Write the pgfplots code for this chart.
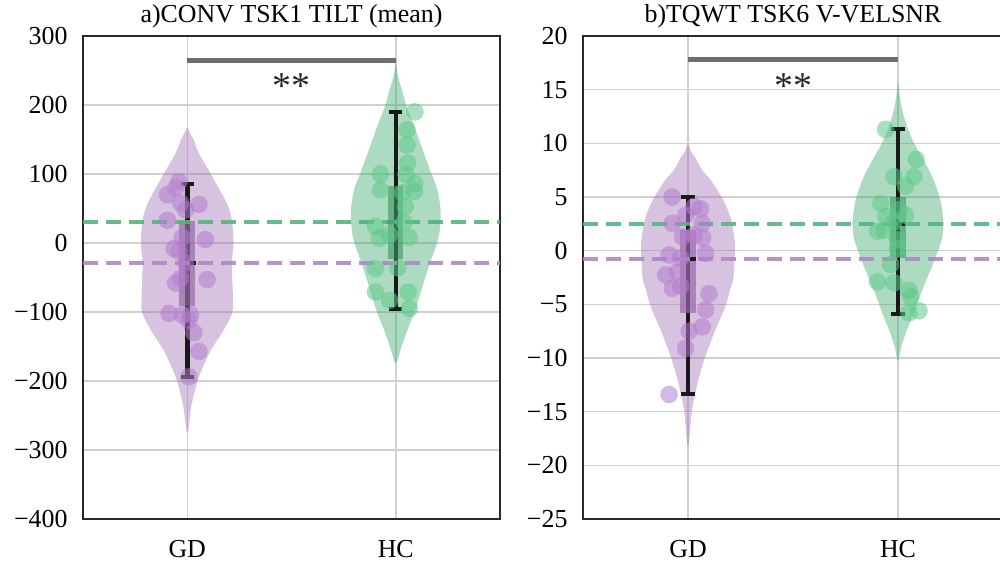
\documentclass[border=0pt]{standalone}
\usepackage{fontspec}
\setmainfont{Liberation Serif}
\usepackage{pgfplots}
\pgfplotsset{compat=1.18}

\definecolor{gdviolet}{RGB}{160,110,180}
\definecolor{gdpoint}{RGB}{178,125,205}
\definecolor{gdmean}{RGB}{175,135,200}
\definecolor{gdbox}{RGB}{150,105,170}
\definecolor{hcgreen}{RGB}{60,170,110}
\definecolor{hcpoint}{RGB}{95,200,138}
\definecolor{hcmean}{RGB}{85,180,125}
\definecolor{hcbox}{RGB}{55,150,95}
\definecolor{spine}{RGB}{40,40,40}
\definecolor{gridgray}{RGB}{208,208,208}
\definecolor{sigbar}{RGB}{110,110,110}

\pgfplotsset{
  violinpanel/.style={
    scale only axis, height=483bp, anchor=south west,
    xmin=-0.5, xmax=1.5, xtick={0,1}, xticklabels={GD,HC},
    xmajorgrids, ymajorgrids,
    grid style={gridgray, line width=1.5bp},
    axis line style={spine, line width=2.5bp},
    major tick length=0pt,
    tick label style={font=\fontsize{26}{26}\selectfont},
    xticklabel style={yshift=-18bp},
    yticklabel style={xshift=-12bp},
    title style={font=\fontsize{26}{26}\selectfont, at={(0.5,1)}, anchor=base, yshift=8bp},
  },
  violin/.style={draw=none, fill=#1, fill opacity=0.42, smooth, tension=0.5},
  dots/.style={only marks, mark=*, mark size=8.8bp, color=#1,
    mark options={draw opacity=0, fill=#1, fill opacity=0.55}},
  whisker/.style={black!90, line width=4.5bp},
  cap/.style={black!90, line width=4bp},
  meanline/.style={#1, line width=4bp, dash pattern=on 15bp off 8bp, opacity=0.9},
  sig/.style={sigbar, line width=5bp},
}

\begin{document}
\begin{tikzpicture}

% ---------------- a) CONV TSK1 TILT (mean) ----------------
\begin{axis}[violinpanel, at={(83bp,44bp)}, width=417bp,
  ymin=-400, ymax=300, ytick={-400,-300,...,300},
  yticklabels={{−400},{−300},{−200},{−100},0,100,200,300},
  title={a)CONV TSK1 TILT (mean)}]
  % violins
  \addplot[violin=gdviolet] coordinates {
    (0,168.6) (0.012,160) (0.03,150) (0.056,130) (0.111,101) (0.19,57.5) (0.214,33)
    (0.222,0) (0.214,-30) (0.219,-78) (0.216,-101) (0.175,-126) (0.114,-155)
    (0.075,-180) (0.048,-201) (0.019,-237) (0,-276)
    (-0.019,-237) (-0.048,-201) (-0.075,-180) (-0.114,-155) (-0.175,-126)
    (-0.216,-101) (-0.219,-78) (-0.214,-30) (-0.222,0) (-0.214,33) (-0.19,57.5)
    (-0.111,101) (-0.056,130) (-0.03,150) (-0.012,160) (0,168.6)} -- cycle;
  \addplot[violin=hcgreen] coordinates {
    (1,263) (1.012,240) (1.03,222) (1.05,200) (1.095,164) (1.135,130) (1.17,101)
    (1.2,77) (1.215,48) (1.211,19) (1.198,0) (1.163,-30) (1.113,-78) (1.088,-102)
    (1.056,-126) (1.028,-150) (1,-174)
    (0.972,-150) (0.944,-126) (0.912,-102) (0.887,-78) (0.837,-30) (0.802,0)
    (0.789,19) (0.785,48) (0.8,77) (0.83,101) (0.865,130) (0.905,164) (0.95,200)
    (0.97,222) (0.988,240) (1,263)} -- cycle;
  % whiskers and boxes
  \addplot[whisker] coordinates {(0,85.5) (0,-193.7)};
  \addplot[cap] coordinates {(-0.032,85.5) (0.032,85.5)};
  \addplot[cap] coordinates {(-0.032,-193.7) (0.032,-193.7)};
  \addplot[whisker] coordinates {(1,190.3) (1,-95.2)};
  \addplot[cap] coordinates {(0.968,190.3) (1.032,190.3)};
  \addplot[cap] coordinates {(0.968,-95.2) (1.032,-95.2)};
  \addplot[draw=none, fill=gdbox, fill opacity=0.7] coordinates
    {(-0.038,32) (0.038,32) (0.038,-92) (-0.038,-92)} -- cycle;
  \addplot[draw=none, fill=hcbox, fill opacity=0.6] coordinates
    {(0.963,82.6) (1.037,82.6) (1.037,-23.7) (0.963,-23.7)} -- cycle;
  \addplot[cap] coordinates {(0.01,-28.5) (0.04,-28.5)};
  \addplot[cap] coordinates {(0.96,30) (0.99,30)};
  % group means
  \addplot[meanline=hcmean] coordinates {(-0.5,30) (1.5,30)};
  \addplot[meanline=gdmean] coordinates {(-0.5,-28.5) (1.5,-28.5)};
  % subjects
  \addplot[dots=gdpoint] coordinates {
    (-0.04,89) (-0.055,80) (-0.095,70) (-0.032,58) (0.056,56) (-0.008,48)
    (-0.095,33) (0.087,5) (-0.024,8) (-0.063,-8) (-0.04,-12) (-0.008,-29)
    (-0.032,-51) (-0.056,-58) (0.095,-53) (-0.087,-102) (-0.024,-104)
    (0.016,-104) (0.008,-112) (0.032,-130) (0.056,-157) (0.008,-194)};
  \addplot[dots=hcpoint] coordinates {
    (1.092,190) (1.054,164) (1.054,142) (1.057,116) (0.927,100) (1.049,99)
    (1.092,86) (0.927,77) (1.089,75) (1.033,73) (1.046,53) (0.903,24)
    (1.04,30) (0.922,7) (0.97,12) (1.065,8) (0.903,-37) (1.01,-36)
    (0.903,-71) (0.97,-83) (1.06,-71) (1.065,-95)};
  % significance
  \addplot[sig] coordinates {(0,265) (1,265)};
  \node[font=\fontsize{38}{38}\selectfont, text=black!85, anchor=base]
    at (axis cs:0.5,210) {**};
\end{axis}

% ---------------- b) TQWT TSK6 V-VELSNR ----------------
\begin{axis}[violinpanel, at={(583bp,44bp)}, width=420bp,
  ymin=-25, ymax=20, ytick={-25,-20,...,20},
  yticklabels={{−25},{−20},{−15},{−10},{−5},0,5,10,15,20},
  title={b)TQWT TSK6 V-VELSNR}]
  \addplot[violin=gdviolet] coordinates {
    (0,10.0) (0.015,9.2) (0.032,8.76) (0.067,7.52) (0.108,6.59) (0.162,4.94)
    (0.196,3.48) (0.21,2.49) (0.223,0.69) (0.221,-1.17) (0.215,-2.73) (0.2,-3.66)
    (0.18,-5.1) (0.128,-7.5) (0.08,-10.0) (0.045,-12.4) (0.018,-15.0) (0,-18.3)
    (-0.018,-15.0) (-0.045,-12.4) (-0.08,-10.0) (-0.128,-7.5) (-0.18,-5.1)
    (-0.2,-3.66) (-0.215,-2.73) (-0.221,-1.17) (-0.223,0.69) (-0.21,2.49)
    (-0.196,3.48) (-0.162,4.94) (-0.108,6.59) (-0.067,7.52) (-0.032,8.76)
    (-0.015,9.2) (0,10.0)} -- cycle;
  \addplot[violin=hcgreen] coordinates {
    (1,15.9) (1.008,14.5) (1.02,13.1) (1.045,11.5) (1.077,10.0) (1.12,8.5)
    (1.163,6.9) (1.198,5.0) (1.21,3.8) (1.217,2.5) (1.208,1.0) (1.168,-1.17)
    (1.14,-2.5) (1.103,-4.3) (1.075,-5.83) (1.042,-7.4) (1.015,-9.0) (1,-10.3)
    (0.985,-9.0) (0.958,-7.4) (0.925,-5.83) (0.897,-4.3) (0.86,-2.5)
    (0.832,-1.17) (0.792,1.0) (0.783,2.5) (0.79,3.8) (0.802,5.0) (0.837,6.9)
    (0.88,8.5) (0.923,10.0) (0.955,11.5) (0.98,13.1) (0.992,14.5) (1,15.9)} -- cycle;
  \addplot[whisker] coordinates {(0,4.97) (0,-13.38)};
  \addplot[cap] coordinates {(-0.032,4.97) (0.032,4.97)};
  \addplot[cap] coordinates {(-0.032,-13.38) (0.032,-13.38)};
  \addplot[whisker] coordinates {(1,11.31) (1,-5.93)};
  \addplot[cap] coordinates {(0.968,11.31) (1.032,11.31)};
  \addplot[cap] coordinates {(0.968,-5.93) (1.032,-5.93)};
  \addplot[draw=none, fill=gdbox, fill opacity=0.7] coordinates
    {(-0.038,1.93) (0.038,1.93) (0.038,-5.77) (-0.038,-5.77)} -- cycle;
  \addplot[draw=none, fill=hcbox, fill opacity=0.6] coordinates
    {(0.963,5.03) (1.037,5.03) (1.037,-0.71) (0.963,-0.71)} -- cycle;
  \addplot[cap] coordinates {(0.01,-0.74) (0.04,-0.74)};
  \addplot[cap] coordinates {(1.01,2.46) (1.04,2.46)};
  \addplot[meanline=hcmean] coordinates {(-0.5,2.49) (1.5,2.49)};
  \addplot[meanline=gdmean] coordinates {(-0.5,-0.74) (1.5,-0.74)};
  \addplot[dots=gdpoint] coordinates {
    (-0.075,5.0) (0.029,4.1) (0.06,3.9) (-0.011,3.3) (-0.075,2.55) (0.068,2.55)
    (0.029,1.46) (-0.027,1.3) (0.07,1.2) (-0.09,-0.4) (0.084,-0.25) (-0.035,-0.7)
    (-0.106,-2.26) (-0.05,-2.0) (-0.075,-3.5) (-0.035,-3.3) (0.1,-4.0)
    (0.084,-5.5) (0.068,-7.1) (0.005,-7.5) (-0.011,-9.1) (-0.09,-13.4)};
  \addplot[dots=hcpoint] coordinates {
    (0.941,11.3) (1.087,8.5) (1.076,6.9) (0.981,6.9) (1.036,6.0) (0.918,4.4)
    (1.005,3.8) (1.036,3.3) (0.941,3.2) (0.981,2.7) (0.902,1.8) (0.933,1.9)
    (0.997,1.0) (0.997,0.2) (0.965,-1.3) (0.902,-2.9) (0.981,-3.0)
    (1.052,-3.7) (1.06,-4.3) (1.1,-5.6) (1.052,-5.8)};
  \addplot[sig] coordinates {(0,17.77) (1,17.77)};
  \node[font=\fontsize{38}{38}\selectfont, text=black!85, anchor=base]
    at (axis cs:0.5,14.2) {**};
\end{axis}

\pgfresetboundingbox
\path[use as bounding box] (0,0) rectangle (1000bp,563bp);
\end{tikzpicture}
\end{document}
